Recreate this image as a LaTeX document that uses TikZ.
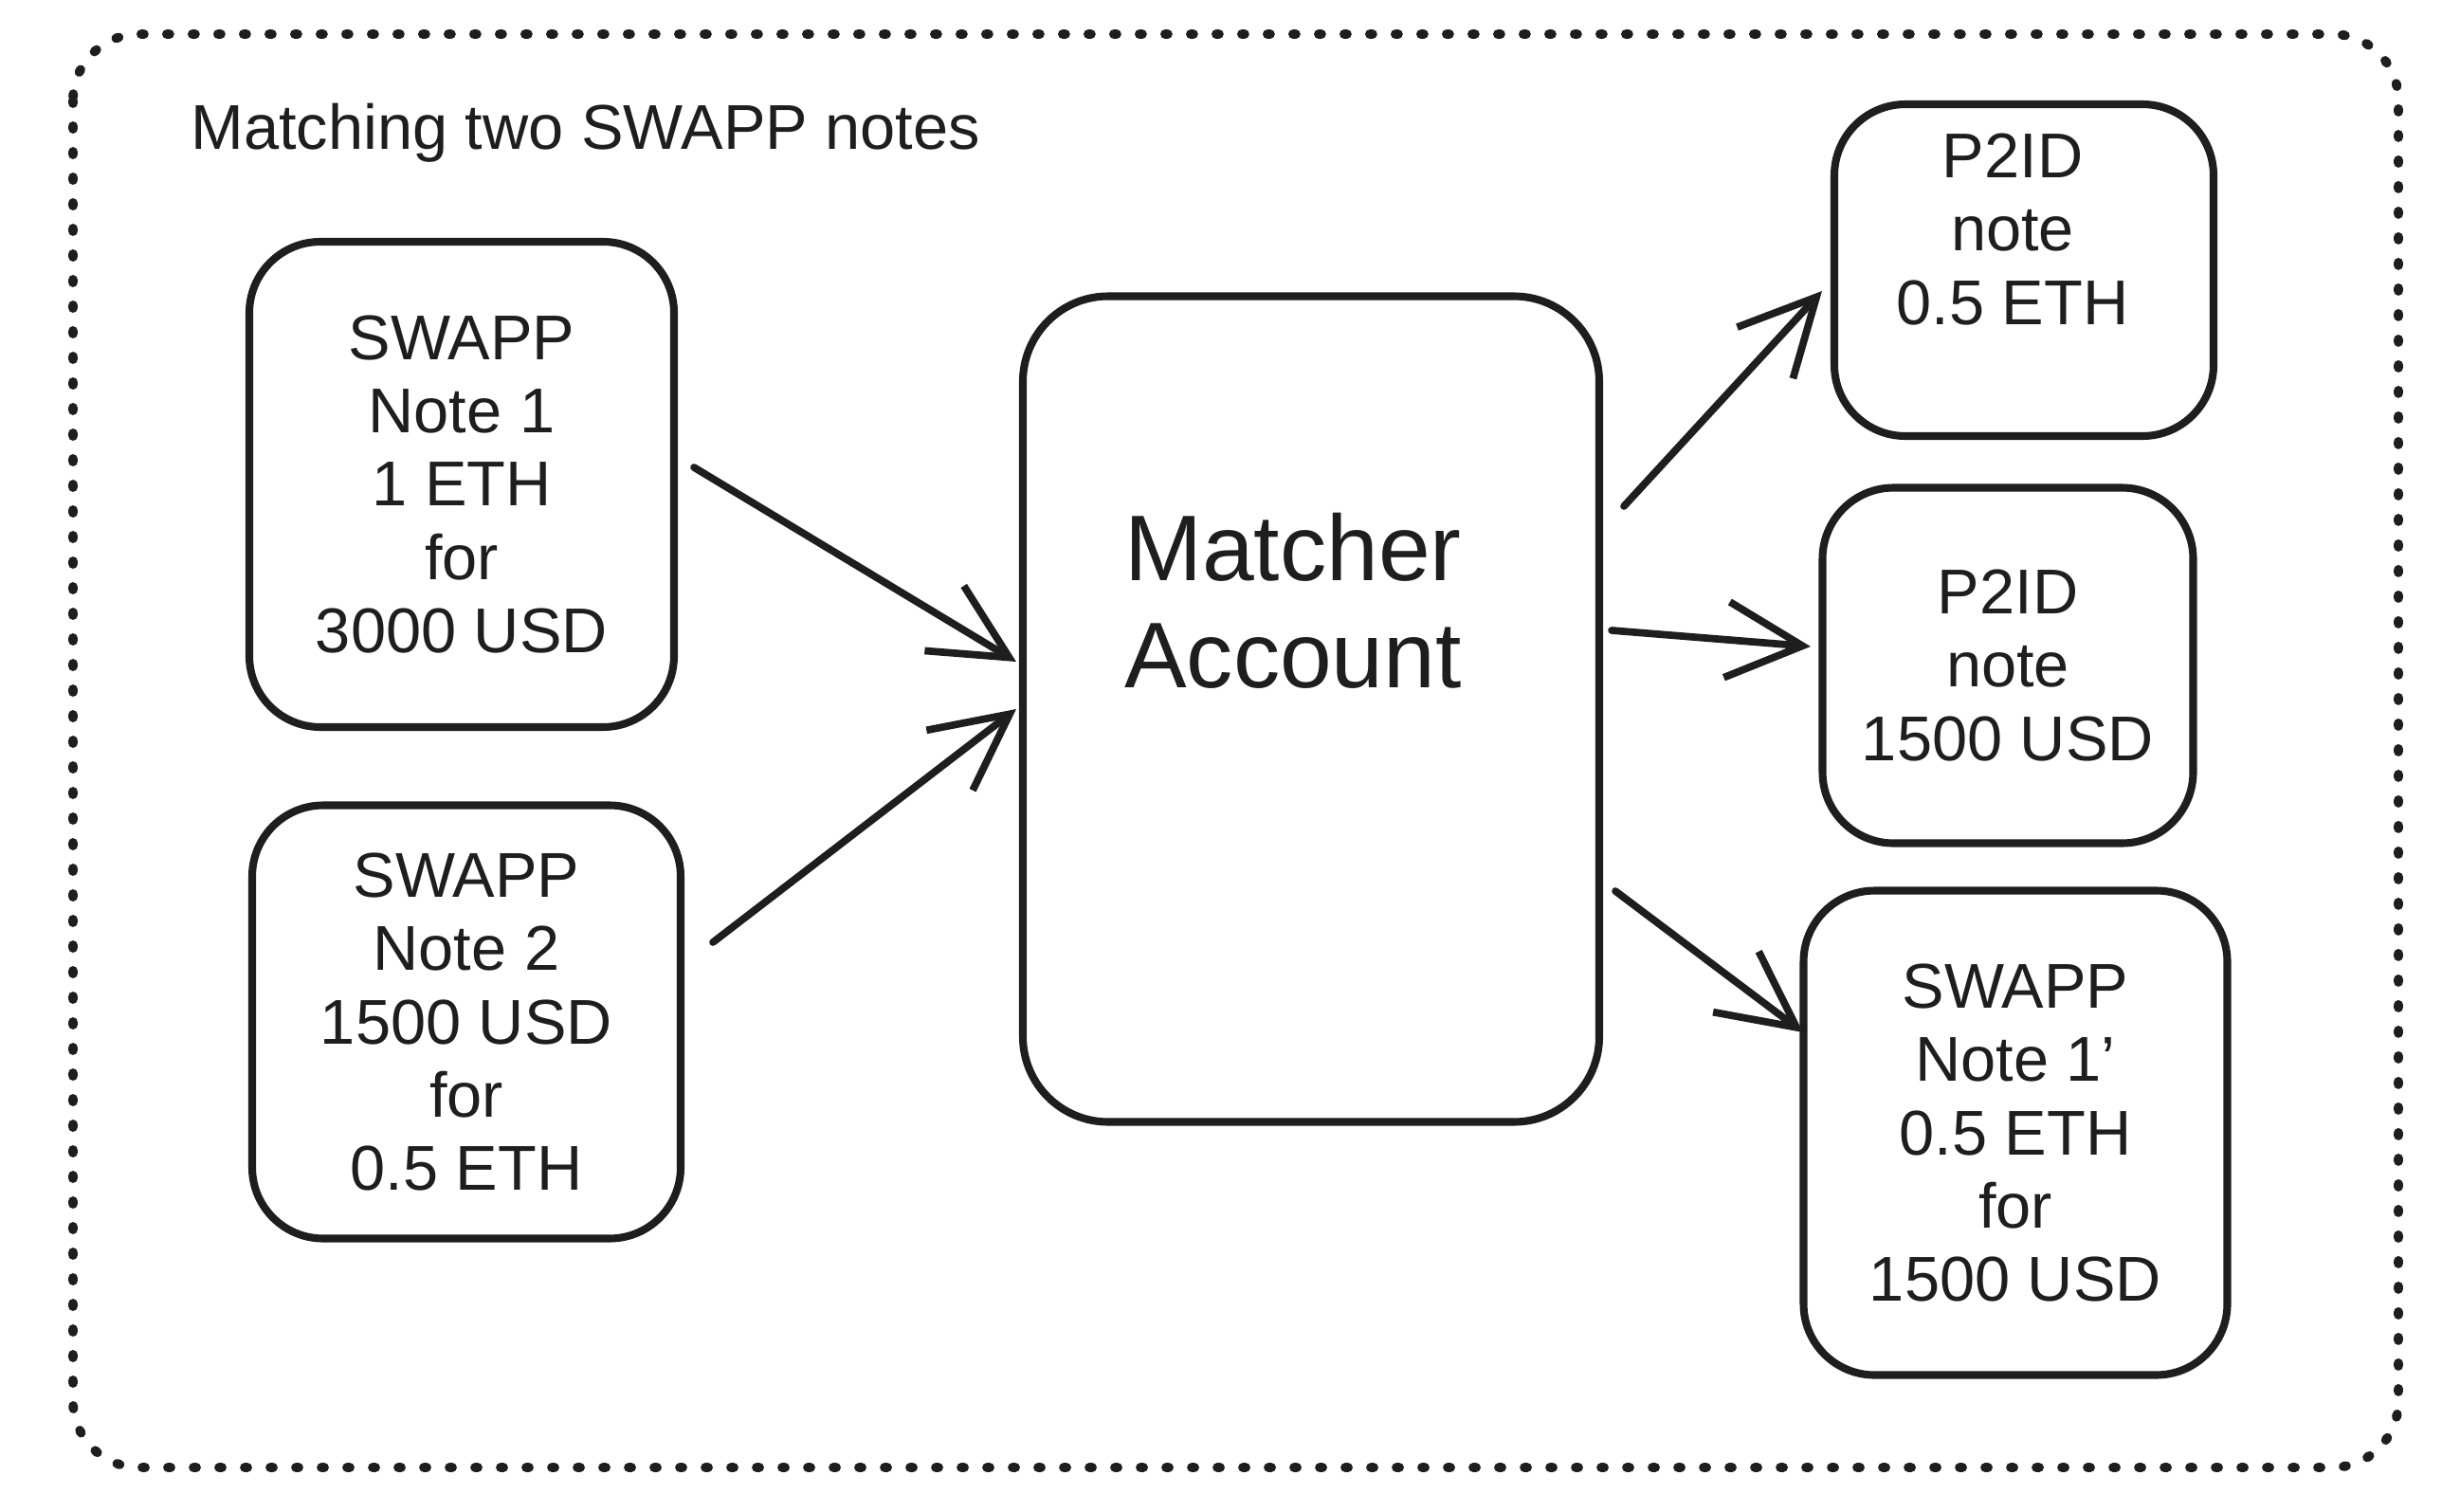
\documentclass[tikz,border=0pt]{standalone}
\usepackage{fontspec}
\setmainfont{Liberation Sans}
\usetikzlibrary{arrows.meta}
\definecolor{ink}{HTML}{1E1E1E}

\begin{document}
\begin{tikzpicture}[x=1mm,y=1mm]
\tikzstyle{every node}+=[text=ink,font=\fontsize{19}{22}\selectfont,align=center]
\tikzstyle{notebox}=[draw=ink,line width=2.3pt,rounded corners=7.5mm,inner sep=0pt]
\tikzstyle{arr}=[draw=ink,line width=2.2pt,line cap=round,-{Straight Barb[length=8mm,width=8mm]}]
\useasboundingbox (0,0) rectangle (257.6,-159.4);
\draw [ink,line width=2.8pt,line cap=round,dash pattern=on 0.3mm off 2.4mm,rounded corners=7mm] (7.7,-3.6) rectangle (253,-154.8);
\node [anchor=west] (title) at (18.9,-14) {Matching two SWAPP notes};
\node [notebox,minimum width=44.8mm,minimum height=51.2mm] (swapp1) at (48.7,-51.1) {SWAPP\\Note 1\\1 ETH\\for\\3000 USD};
\node [notebox,minimum width=45.2mm,minimum height=45.7mm] (swapp2) at (49.2,-107.8) {SWAPP\\Note 2\\1500 USD\\for\\0.5 ETH};
\node [notebox,minimum width=60.8mm,minimum height=87.1mm,rounded corners=9mm] (matcher) at (138.3,-74.8) {};
\node [font=\fontsize{28}{32}\selectfont] (matchertext) at (136.4,-63.4) {Matcher\\Account};
\node [notebox,minimum width=40mm,minimum height=35mm] (p2ideth) at (213.5,-28.5) {};
\node (p2idethtext) at (212.3,-24.2) {P2ID\\note\\0.5 ETH};
\node [notebox,minimum width=39.1mm,minimum height=37.5mm] (p2idusd) at (211.8,-70.2) {P2ID\\note\\1500 USD};
\node [notebox,minimum width=44.7mm,minimum height=51.1mm] (swapp1b) at (212.6,-119.5) {SWAPP\\Note 1'\\0.5 ETH\\for\\1500 USD};
\draw [arr] ([xshift=1.7mm,yshift=1.8mm]swapp1.east) -- ([xshift=-0.3mm,yshift=5mm]matcher.west);
\draw [arr] ([xshift=3mm,yshift=8.4mm]swapp2.east) -- ([xshift=-0.3mm]matcher.west);
\draw [arr] ([xshift=2.2mm,yshift=21.4mm]matcher.east) -- ([xshift=-0.9mm,yshift=-2.2mm]p2ideth.west);
\draw [arr] ([xshift=0.9mm,yshift=8.3mm]matcher.east) -- ([xshift=-0.85mm,yshift=2mm]p2idusd.west);
\draw [arr] ([xshift=1.3mm,yshift=-19.2mm]matcher.east) -- ([xshift=0.35mm,yshift=10.6mm]swapp1b.west);
\end{tikzpicture}
\end{document}
